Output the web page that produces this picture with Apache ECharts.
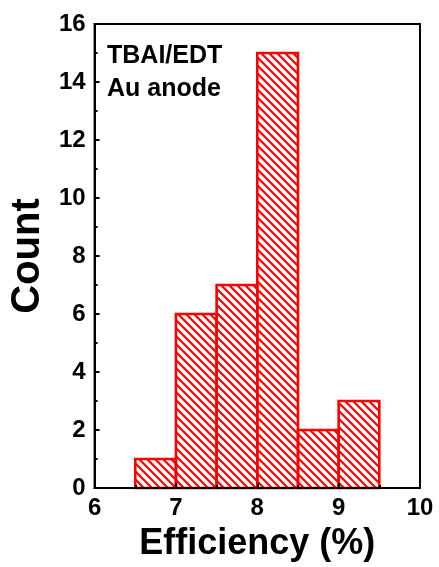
<!DOCTYPE html>
<html>
<head>
<meta charset="utf-8">
<script src="https://cdn.jsdelivr.net/npm/echarts@6/dist/echarts.min.js"></script>
<style>
  html, body { margin: 0; padding: 0; background: #fff; }
  #chart { width: 439px; height: 567px; }
</style>
</head>
<body>
<div id="chart"></div>
<script>
// Histogram bins: left edge, right edge, count
const binStart = [6.5, 7.0, 7.5, 8.0, 8.5, 9.0];
const binEnd   = [7.0, 7.5, 8.0, 8.5, 9.0, 9.5];
const counts   = [1, 6, 7, 15, 2, 3];

const xTicks = { min: 6, max: 10, interval: 1 };
const yTicks = { min: 0, max: 16, interval: 2 };

const FONT = '"Liberation Sans", Arial, Helvetica, sans-serif';
const RED = '#ff0000';

// Diagonal hatch tile ("\" direction)
function makeHatch(size, width, color) {
  const c = document.createElement('canvas');
  c.width = size; c.height = size;
  const ctx = c.getContext('2d');
  ctx.strokeStyle = color;
  ctx.lineWidth = width;
  ctx.lineCap = 'square';
  ctx.beginPath();
  ctx.moveTo(0, 0); ctx.lineTo(size, size);
  ctx.moveTo(-size / 2, size / 2); ctx.lineTo(size / 2, size * 1.5);
  ctx.moveTo(size / 2, -size / 2); ctx.lineTo(size * 1.5, size / 2);
  ctx.stroke();
  return c;
}
const hatch = makeHatch(8, 2.2, RED);

const binData = binStart.map((s, i) => [s, binEnd[i], counts[i]]);

const chart = echarts.init(document.getElementById('chart'), null, { renderer: 'canvas' });

const axisCommon = {
  z: 5,
  axisLine: { show: true, onZero: false, lineStyle: { color: '#000', width: 2 } },
  axisTick: { show: true, inside: true, length: 5, lineStyle: { color: '#000', width: 2 } },
  minorTick: { show: true, splitNumber: 2, length: 3, lineStyle: { color: '#000', width: 2 } },
  splitLine: { show: false },
  minorSplitLine: { show: false },
  axisLabel: { color: '#000', fontFamily: FONT, fontWeight: 'bold', fontSize: 24 },
  nameTextStyle: { color: '#000', fontFamily: FONT, fontWeight: 'bold' }
};

chart.setOption({
  animation: false,
  backgroundColor: '#fff',
  grid: {
    left: 93, right: 19, top: 24, bottom: 76,
    show: true, borderColor: '#000', borderWidth: 2, backgroundColor: 'transparent',
    containLabel: false
  },
  xAxis: Object.assign({}, axisCommon, {
    type: 'value',
    min: xTicks.min, max: xTicks.max, interval: xTicks.interval,
    name: 'Efficiency (%)',
    nameLocation: 'middle',
    nameGap: 38,
    nameTextStyle: Object.assign({}, axisCommon.nameTextStyle, { fontSize: 36 }),
    axisLabel: Object.assign({}, axisCommon.axisLabel, { margin: 8 })
  }),
  yAxis: Object.assign({}, axisCommon, {
    type: 'value',
    min: yTicks.min, max: yTicks.max, interval: yTicks.interval,
    name: 'Count',
    nameLocation: 'middle',
    nameGap: 46,
    nameTextStyle: Object.assign({}, axisCommon.nameTextStyle, { fontSize: 40 }),
    axisLabel: Object.assign({}, axisCommon.axisLabel, { margin: 9 })
  }),
  graphic: [{
    type: 'text',
    left: 107,
    top: 40,
    style: {
      text: 'TBAI/EDT\nAu anode',
      font: 'bold 25px ' + FONT,
      lineHeight: 33,
      fill: '#000'
    }
  }],
  series: [{
    type: 'custom',
    z: 2,
    data: binData,
    encode: { x: [0, 1], y: 2 },
    renderItem: function (params, api) {
      const topLeft = api.coord([api.value(0), api.value(2)]);
      const bottomRight = api.coord([api.value(1), 0]);
      return {
        type: 'rect',
        shape: {
          x: topLeft[0],
          y: topLeft[1],
          width: bottomRight[0] - topLeft[0],
          height: bottomRight[1] - topLeft[1]
        },
        style: {
          fill: { image: hatch, repeat: 'repeat' },
          stroke: RED,
          lineWidth: 2.6
        }
      };
    }
  }]
});
</script>
</body>
</html>
